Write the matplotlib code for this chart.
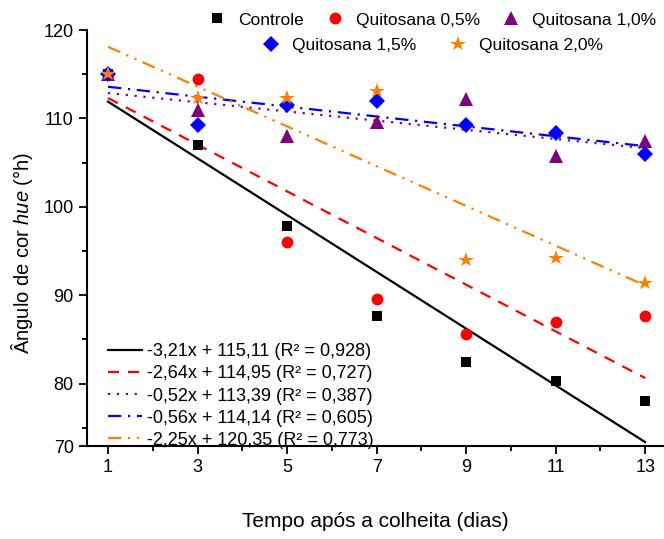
import matplotlib
matplotlib.use('Agg')
import matplotlib.pyplot as plt
import numpy as np

plt.rcParams['font.family'] = ['Liberation Sans', 'DejaVu Sans']
plt.rcParams['mathtext.fontset'] = 'custom'
plt.rcParams['mathtext.rm'] = 'Liberation Sans'
plt.rcParams['mathtext.it'] = 'Liberation Sans:italic'

# dados
dias = [1, 3, 5, 7, 9, 11, 13]
controle = [115.0, 107.0, 97.8, 87.7, 82.5, 80.3, 78.0]
quit05 = [115.0, 114.5, 96.0, 89.6, 85.6, 87.0, 87.7]
quit10 = [115.0, 111.0, 108.0, 109.6, 112.2, 105.8, 107.5]
quit15 = [115.0, 109.2, 111.5, 112.0, 109.3, 108.3, 106.0]
quit20 = [115.0, 112.3, 112.3, 113.1, 94.0, 94.2, 91.4]

nomes = ['Controle', 'Quitosana 0,5%', 'Quitosana 1,0%', 'Quitosana 1,5%', 'Quitosana 2,0%']
# coeficientes das regressoes (y = a*x + b)
slopes = [-3.21, -2.64, -0.52, -0.56, -2.25]
intercepts = [115.11, 114.95, 113.39, 114.14, 120.35]
r2 = ['0,928', '0,727', '0,387', '0,605', '0,773']

ytick_vals = [80, 90, 100, 110, 120]
ymin = 72.94  # eixo x corta o eixo y aqui no original (rotulado "70")

series = [controle, quit05, quit10, quit15, quit20]
cores = ['black', '#FF0000', '#800080', '#0000FF', '#FF8000']
marcadores = ['s', 'o', '^', 'D', '*']
msizes = [7, 8.5, 9.5, 8.5, 11.5]
estilos = ['-', (0, (5, 4)), (0, (1, 3)), (0, (6, 3, 1, 3)), (0, (6, 3, 1, 3, 1, 3))]

fig = plt.figure(figsize=(6.64, 5.39), dpi=100)
ax = fig.add_axes([0.131, 0.1725, 0.869, 0.7718])

pts = []
for y, c, m, ms, n in zip(series, cores, marcadores, msizes, nomes):
    h, = ax.plot(dias, y, linestyle='none', marker=m, color=c, markersize=ms,
                 markeredgewidth=0, label=n, zorder=3)
    pts.append(h)

xs = np.array([dias[0], dias[-1]])
linhas = []
for a, b, r, c, ls in zip(slopes, intercepts, r2, cores, estilos):
    lab = '%sx + %s (R² = %s)' % (('%.2f' % a).replace('.', ','),
                                  ('%.2f' % b).replace('.', ','), r)
    h, = ax.plot(xs, a * xs + b, color=c, linestyle=ls, lw=1.6, label=lab, zorder=2)
    linhas.append(h)

ax.set_xlim(0.53, 13.42)
ax.set_ylim(ymin, 120)
ax.set_xticks(dias)
ax.set_xticks([2, 4, 6, 8, 10, 12], minor=True)
ax.set_yticks([ymin] + ytick_vals, ['70'] + [str(v) for v in ytick_vals])
ax.set_yticks([75, 85, 95, 105, 115], minor=True)
ax.spines['top'].set_visible(False)
ax.spines['right'].set_visible(False)
ax.spines['left'].set_linewidth(1.5)
ax.spines['bottom'].set_linewidth(1.5)
ax.tick_params(which='major', direction='out', length=6, width=1.3, labelsize=13)
ax.tick_params(which='minor', direction='out', length=3.5, width=1.3)

ax.set_xlabel('Tempo após a colheita (dias)', fontsize=15, labelpad=26)
ax.set_ylabel(r'Ângulo de cor $\mathit{hue}$ (°h)', fontsize=14.5)
ax.yaxis.set_label_coords(-0.09, 0.465)

leg1 = fig.legend(handles=pts[:3], loc='center', bbox_to_anchor=(0.65, 0.963), ncol=3,
                  frameon=False, fontsize=12.5, handletextpad=0.6, columnspacing=1.2,
                  handlelength=1.2, borderpad=0)
leg2 = fig.legend(handles=pts[3:], loc='center', bbox_to_anchor=(0.65, 0.9165), ncol=2,
                  frameon=False, fontsize=12.5, handletextpad=0.6, columnspacing=1.8,
                  handlelength=1.2, borderpad=0)
ax.legend(handles=linhas, loc='lower left', bbox_to_anchor=(0.02, -0.028), frameon=False,
          fontsize=13, handlelength=1.9, handletextpad=0.3, labelspacing=0.28,
          borderpad=0)

fig.savefig('out.png', dpi=100)
